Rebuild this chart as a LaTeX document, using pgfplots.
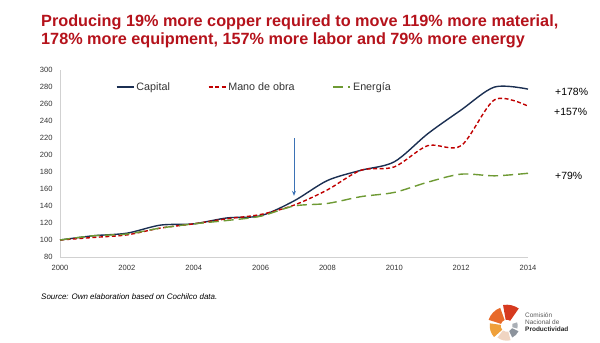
\documentclass[border=0pt]{standalone}
\usepackage{pgfplots}
\pgfplotsset{compat=1.18}
\usepackage{fontspec}
\setmainfont{Liberation Sans}
\usetikzlibrary{arrows.meta}
\definecolor{titred}{HTML}{B5121B}
\definecolor{capblue}{HTML}{1B2F52}
\definecolor{manored}{HTML}{C00000}
\definecolor{energreen}{HTML}{6E9A34}
\definecolor{arrowblue}{HTML}{3B72B5}
\definecolor{lg1}{HTML}{D63A1F}
\definecolor{lg2}{HTML}{E86A2A}
\definecolor{lg3}{HTML}{EFA03A}
\definecolor{lg4}{HTML}{F0D5C2}
\definecolor{lg5}{HTML}{8C939C}
\definecolor{lg6}{HTML}{AAAFB6}
\begin{document}
\begin{tikzpicture}[x=1bp,y=1bp]
\path (0,0) rectangle (600,342);
\node[anchor=base west, inner sep=0, text=titred, font=\bfseries\fontsize{16.3}{17}\selectfont] at (41,315.3) {Producing 19\% more copper required to move 119\% more material,};
\node[anchor=base west, inner sep=0, text=titred, font=\bfseries\fontsize{16.3}{17}\selectfont] at (41,298) {178\% more equipment, 157\% more labor and 79\% more energy};
\begin{axis}[at={(60bp,85bp)}, anchor=south west, scale only axis,
  width=468bp, height=187bp,
  xmin=2000, xmax=2014, ymin=80, ymax=300,
  xtick={2000,2002,...,2014}, ytick={80,100,...,300},
  axis x line*=bottom, axis y line*=left,
  axis line style={draw=black!18, line width=0.8bp},
  major tick length=0,
  tick label style={font=\fontsize{7.6}{8}\selectfont, text=black!80},
  xticklabel style={yshift=-5bp},
  yticklabel style={xshift=-4bp},
  /pgf/number format/assume math mode=true,
  /pgf/number format/1000 sep={},
  clip=false,
  legend columns=3,
  legend style={draw=none, fill=none, at={(axis cs:2001.58,280)}, anchor=west,
    font=\fontsize{10.8}{12}\selectfont, text=black!80,
    /tikz/every even column/.append style={column sep=36bp}},
]
\addplot[capblue, line width=1.4bp, smooth, tension=0.5] coordinates {
(2000,100) (2001,105) (2002,108) (2003,117.5) (2004,119) (2005,126) (2006,128.5)
(2007,146) (2008,170) (2009,182) (2010,192) (2011,225) (2012,253) (2013,280) (2014,277.5)};
\addlegendentry{Capital}
\addplot[manored, line width=1.4bp, dash pattern=on 4bp off 2.5bp, smooth, tension=0.5] coordinates {
(2000,100) (2001,103) (2002,106) (2003,114) (2004,119) (2005,125) (2006,130)
(2007,141) (2008,159) (2009,182) (2010,186) (2011,211) (2012,211) (2013,265) (2014,257.5)};
\addlegendentry{Mano de obra}
\addplot[energreen, line width=1.4bp, dash pattern=on 10bp off 5bp, smooth, tension=0.5] coordinates {
(2000,100) (2001,105) (2002,107) (2003,114) (2004,119) (2005,123) (2006,128)
(2007,140) (2008,143) (2009,151) (2010,156) (2011,168) (2012,177.5) (2013,175.5) (2014,178.5)};
\addlegendentry{Energía}
\draw[arrowblue, line width=0.9bp, -{Stealth[length=5bp,width=4bp]}] (axis cs:2007,220) -- (axis cs:2007,152);
\end{axis}
\node[anchor=west, inner sep=0, font=\fontsize{10.5}{12}\selectfont] at (555,249.7) {+178\%};
\node[anchor=west, inner sep=0, font=\fontsize{10.5}{12}\selectfont] at (554,229.7) {+157\%};
\node[anchor=west, inner sep=0, font=\fontsize{10.5}{12}\selectfont] at (555,166.3) {+79\%};
\node[anchor=west, inner sep=0, font=\itshape\fontsize{8}{9}\selectfont] at (41,45) {Source: Own elaboration based on Cochilco data.};
% logo
\def\cx{506.7}\def\cy{16.3}\def\ri{6}
\fill[lg1] ([shift={(55:21)}]\cx,\cy) arc[start angle=55,end angle=100,radius=21] -- ([shift={(100:\ri)}]\cx,\cy) arc[start angle=100,end angle=55,radius=\ri] -- cycle;
\fill[lg2] ([shift={(110:19)}]\cx,\cy) arc[start angle=110,end angle=162,radius=19] -- ([shift={(162:\ri)}]\cx,\cy) arc[start angle=162,end angle=110,radius=\ri] -- cycle;
\fill[lg3] ([shift={(172:17)}]\cx,\cy) arc[start angle=172,end angle=222,radius=17] -- ([shift={(222:\ri)}]\cx,\cy) arc[start angle=222,end angle=172,radius=\ri] -- cycle;
\fill[lg4] ([shift={(232:15)}]\cx,\cy) arc[start angle=232,end angle=285,radius=15] -- ([shift={(285:\ri)}]\cx,\cy) arc[start angle=285,end angle=232,radius=\ri] -- cycle;
\fill[lg5] ([shift={(295:13)}]\cx,\cy) arc[start angle=295,end angle=335,radius=13] -- ([shift={(335:\ri)}]\cx,\cy) arc[start angle=335,end angle=295,radius=\ri] -- cycle;
\fill[lg6] ([shift={(345:11)}]\cx,\cy) arc[start angle=345,end angle=378,radius=11] -- ([shift={(378:\ri)}]\cx,\cy) arc[start angle=378,end angle=345,radius=\ri] -- cycle;
\node[anchor=west, inner sep=0, text=black!65, font=\fontsize{6.5}{7}\selectfont] at (525,27) {Comisión};
\node[anchor=west, inner sep=0, text=black!65, font=\fontsize{6.5}{7}\selectfont] at (525,20.3) {Nacional de};
\node[anchor=west, inner sep=0, text=black!85, font=\bfseries\fontsize{6.5}{7}\selectfont] at (525,12.7) {Productividad};
\end{tikzpicture}
\end{document}
